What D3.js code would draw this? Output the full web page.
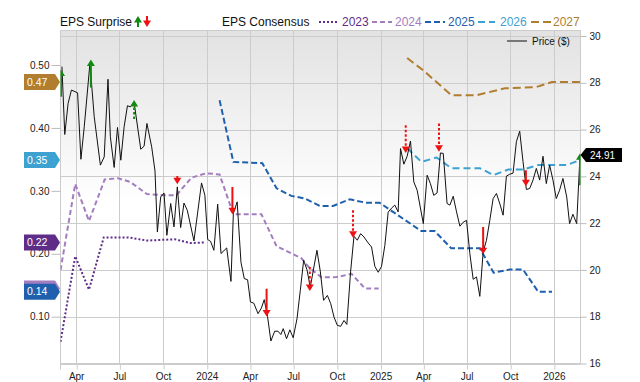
<!DOCTYPE html>
<html><head><meta charset="utf-8">
<script src="https://cdn.jsdelivr.net/npm/d3@7"></script>
<style>html,body{margin:0;padding:0;background:#fff;}svg{display:block;font-family:"Liberation Sans",Arial,Helvetica,sans-serif;}</style>
</head><body><svg id="chart" width="640" height="382"></svg>
<script>
// ---------------- DATA ----------------
const pricePoints = [
["2023-03-02",28.69],["2023-03-08",25.79],["2023-03-15",27.12],["2023-03-22",27.69],["2023-04-04",27.57],
["2023-04-11",24.73],["2023-04-18",26.12],["2023-04-30",28.83],["2023-05-09",26.55],["2023-05-22",24.48],
["2023-05-30",24.83],["2023-06-07",28.15],["2023-06-12",25.69],["2023-06-20",24.38],["2023-06-27",26.09],
["2023-07-04",24.69],["2023-07-11",26.12],["2023-07-18",27.02],["2023-07-24",26.97],["2023-08-01",27.16],
["2023-08-15",25.16],["2023-08-22",25.29],["2023-08-28",26.26],["2023-09-07",25.26],["2023-09-14",24.23],
["2023-09-19",21.62],["2023-09-26",23.12],["2023-10-03",23.29],["2023-10-09",21.48],["2023-10-17",22.84],
["2023-10-24",21.84],["2023-10-31",23.55],["2023-11-07",21.81],["2023-11-14",22.86],["2023-11-21",22.55],
["2023-12-05",21.24],["2023-12-21",23.72],["2023-12-28",23.19],["2024-01-03",21.30],["2024-01-09",21.22],
["2024-01-16",20.84],["2024-01-24",22.81],["2024-01-31",20.70],["2024-02-12",20.94],["2024-02-21",19.51],
["2024-02-26",22.41],["2024-03-05",22.91],["2024-03-13",20.33],["2024-03-20",19.63],["2024-03-27",19.58],
["2024-04-02",18.63],["2024-04-09",18.58],["2024-04-18",18.13],["2024-04-25",18.37],["2024-05-01",18.73],
["2024-05-08",18.01],["2024-05-15",16.96],["2024-05-23",17.38],["2024-05-30",17.38],["2024-06-05",17.24],
["2024-06-10",17.49],["2024-06-17",17.06],["2024-06-24",17.44],["2024-07-01",17.10],["2024-07-09",17.91],
["2024-07-16",19.13],["2024-07-23",20.41],["2024-07-30",20.01],["2024-08-06",19.27],["2024-08-20",20.84],
["2024-08-27",19.95],["2024-09-03",18.70],["2024-09-11",18.91],["2024-09-18",18.56],["2024-09-25",17.98],
["2024-10-02",17.63],["2024-10-09",17.59],["2024-10-16",17.84],["2024-10-22",17.67],["2024-10-30",19.95],
["2024-11-06",21.44],["2024-11-13",21.27],["2024-11-20",21.55],["2024-11-27",21.41],["2024-12-06",21.15],
["2024-12-13",20.98],["2024-12-20",20.15],["2024-12-27",19.90],["2025-01-03",20.15],["2025-01-10",21.05],
["2025-01-17",22.47],["2025-01-24",22.64],["2025-01-31",22.77],["2025-02-07",22.48],["2025-02-12",25.19],
["2025-02-19",24.52],["2025-02-26",24.86],["2025-03-05",25.51],["2025-03-12",23.76],["2025-03-19",23.41],
["2025-04-01",21.98],["2025-04-09",24.05],["2025-04-16",23.69],["2025-04-23",23.19],["2025-04-30",23.29],
["2025-05-07",25.00],["2025-05-13",24.98],["2025-05-21",22.84],["2025-05-27",22.77],["2025-06-03",23.15],
["2025-06-10",22.48],["2025-06-17",21.87],["2025-06-24",22.04],["2025-07-01",22.12],["2025-07-08",20.70],
["2025-07-15",19.60],["2025-07-22",19.70],["2025-07-29",18.87],["2025-08-05",20.77],["2025-08-12",21.27],
["2025-08-19",22.12],["2025-08-26",23.05],["2025-09-02",23.27],["2025-09-10",22.77],["2025-09-16",22.34],
["2025-09-23",24.01],["2025-09-30",24.09],["2025-10-07",24.14],["2025-10-14",25.48],["2025-10-21",25.93],
["2025-10-28",24.62],["2025-11-04",23.44],["2025-11-11",23.48],["2025-11-18",23.84],["2025-11-25",24.34],
["2025-12-02",23.84],["2025-12-09",24.86],["2025-12-16",23.69],["2025-12-23",24.48],["2025-12-30",23.84],
["2026-01-06",23.05],["2026-01-13",23.41],["2026-01-20",23.91],["2026-01-28",23.12],["2026-02-03",21.98],
["2026-02-10",22.38],["2026-02-18",21.98],["2026-02-25",24.91]
];

const consensus2023 = [["2023-02-27",0.060],["2023-03-30",0.196],["2023-04-28",0.143],["2023-05-29",0.226],
["2023-07-20",0.226],["2023-08-28",0.221],["2023-10-26",0.223],["2023-11-27",0.217],["2023-12-29",0.218]];

const consensus2024 = [["2023-02-27",0.174],["2023-03-30",0.311],["2023-04-28",0.252],["2023-05-31",0.318],
["2023-06-28",0.320],["2023-07-23",0.3145],["2023-08-28",0.295],["2023-10-01",0.293],["2023-10-29",0.293],
["2023-11-30",0.321],["2023-12-31",0.328],["2024-01-28",0.326],["2024-02-26",0.263],["2024-04-25",0.263],
["2024-05-27",0.212],["2024-07-18",0.193],["2024-08-05",0.177],["2024-08-30",0.1625],["2024-09-30",0.163],
["2024-11-01",0.168],["2024-11-29",0.145],["2024-12-28",0.145]];

const consensus2025 = [["2024-01-28",0.444],["2024-02-26",0.346],["2024-04-27",0.344],["2024-05-27",0.304],
["2024-06-27",0.292],["2024-07-25",0.288],["2024-08-26",0.276],["2024-09-23",0.276],["2024-10-28",0.2865],
["2024-12-02",0.281],["2024-12-30",0.281],["2025-03-28",0.236],["2025-04-25",0.236],["2025-05-30",0.2086],
["2025-07-29",0.2086],["2025-08-27",0.170],["2025-09-30",0.175],["2025-10-28",0.175],["2025-11-29",0.1396],
["2025-12-28",0.1396]];

const consensus2026 = [["2025-02-26",0.368],["2025-03-28",0.346],["2025-04-29",0.353],["2025-05-30",0.336],
["2025-07-29",0.336],["2025-08-27",0.325],["2025-09-27",0.334],["2025-10-28",0.334],["2025-11-29",0.341],
["2026-01-28",0.341],["2026-02-25",0.349]];

const consensus2027 = [["2025-02-26",0.511],["2025-03-31",0.492],["2025-05-30",0.452],["2025-07-22",0.452],
["2025-09-20",0.463],["2025-11-25",0.465],["2025-12-28",0.473],["2026-02-25",0.473]];

const consensusYears = ["2023","2024","2025","2026","2027"];
// 2024's tag is hidden behind the 2025 tag in the reference, so it carries no visible text
const consensusLabels = ["0.22","","0.14","0.35","0.47"];

// EPS surprise arrows: date, price at tail, price at tip, solid (true) / dotted (false)
const surpriseDates = ["2023-02-28","2023-05-02","2023-08-01","2023-10-31","2024-02-24","2024-05-06",
"2024-08-05","2024-11-04","2025-02-23","2025-05-04","2025-08-05","2025-11-03","2026-02-25"];
const surpriseFrom = [27.40,27.80,26.45,24.01,23.55,19.20,20.12,22.55,26.19,26.26,21.84,24.26,23.62];
const surpriseTo   = [28.57,29.00,27.26,23.66,22.38,18.01,19.10,21.38,25.00,25.05,20.67,23.58,24.99];
const surpriseSolid = [true,true,false,false,true,true,false,false,false,false,true,true,true];

const lastPriceLabel = "24.91";
const priceTicks = [16,18,20,22,24,26,28,30];
const epsTicks = [0.10,0.20,0.30,0.40,0.50];
const timeTickDates = ["2023-04-01","2023-07-01","2023-10-01","2024-01-01","2024-04-01","2024-07-01",
"2024-10-01","2025-01-01","2025-04-01","2025-07-01","2025-10-01","2026-01-01"];
const timeTickLabels = ["Apr","Jul","Oct","2024","Apr","Jul","Oct","2025","Apr","Jul","Oct","2026"];

// ---------------- CHART ----------------
const parse = d3.utcParse("%Y-%m-%d");
const svg = d3.select("#chart");
const L = 60.5, R = 580.5, T = 30.5, B = 363.5;

const x = d3.scaleUtc().domain([parse("2023-02-27"), parse("2026-02-26")]).range([L, R]);
const yP = d3.scaleLinear().domain([16, 30]).range([363.5, 36]);
const yE = d3.scaleLinear().domain([0.1, 0.5]).range([316.7, 65]);

const colors = {"2023":"#5f2d88","2024":"#a47dc0","2025":"#1f60ae","2026":"#3da2d1","2027":"#b17d2f"};
const dashes = {"2023":"2,2","2024":"5,3","2025":"6,3","2026":"7,4","2027":"8,4"};
const series = {"2023":consensus2023,"2024":consensus2024,"2025":consensus2025,"2026":consensus2026,"2027":consensus2027};

const defs = svg.append("defs");
const grad = defs.append("linearGradient").attr("id","bg").attr("x1",0).attr("y1",0).attr("x2",0).attr("y2",1);
grad.append("stop").attr("offset","0%").attr("stop-color","#e2e2e2");
grad.append("stop").attr("offset","52%").attr("stop-color","#ffffff");
grad.append("stop").attr("offset","100%").attr("stop-color","#ffffff");
defs.append("clipPath").attr("id","clip").append("rect").attr("x",L).attr("y",T).attr("width",R-L).attr("height",B-T);

svg.append("rect").attr("x",L).attr("y",T).attr("width",R-L).attr("height",B-T).attr("fill","url(#bg)");

// grid
const grid = svg.append("g").attr("stroke","#cccccc").attr("stroke-width",1);
priceTicks.forEach(v => {
  const yy = Math.round(yP(v)) + 0.5;
  grid.append("line").attr("x1",L).attr("x2",R).attr("y1",yy).attr("y2",yy);
});
timeTickDates.forEach(d => {
  const xx = Math.round(x(parse(d))) + 0.5;
  grid.append("line").attr("x1",xx).attr("x2",xx).attr("y1",T).attr("y2",B);
});
grid.append("line").attr("x1",L).attr("x2",R).attr("y1",T).attr("y2",T);
grid.append("line").attr("x1",L).attr("x2",L).attr("y1",T).attr("y2",B+6);
grid.append("line").attr("x1",R).attr("x2",R).attr("y1",T).attr("y2",B);
grid.append("line").attr("x1",L).attr("x2",R).attr("y1",B).attr("y2",B);

// axes
const xAxis = d3.axisBottom(x).tickValues(timeTickDates.map(parse))
  .tickFormat((d,i) => timeTickLabels[i]).tickSize(6).tickPadding(3).tickSizeOuter(0);
const gx = svg.append("g").attr("transform",`translate(0,${B})`).call(xAxis);
gx.select(".domain").remove();
gx.selectAll("line").attr("stroke","#cccccc").attr("transform","translate(0.5,0)");

const rAxis = d3.axisRight(yP).tickValues(priceTicks).tickSize(6).tickPadding(3).tickSizeOuter(0);
const gr = svg.append("g").attr("transform",`translate(${R},0)`).call(rAxis);
gr.select(".domain").remove();
gr.selectAll("line").attr("stroke","#bbbbbb");

const lAxis = d3.axisLeft(yE).tickValues(epsTicks).tickFormat(d3.format(".2f")).tickSize(9).tickPadding(2).tickSizeOuter(0);
const gl = svg.append("g").attr("transform",`translate(${L},0)`).call(lAxis);
gl.select(".domain").remove();
gl.selectAll("line").attr("stroke","#bbbbbb");

[gx, gr, gl].forEach(g => g.selectAll("text").attr("font-size",10).attr("fill","#222")
  .attr("font-family",'"Liberation Sans",Arial,sans-serif'));

// consensus lines
const plot = svg.append("g").attr("clip-path","url(#clip)");
const eLine = d3.line().x(d => x(parse(d[0]))).y(d => yE(d[1]));
consensusYears.forEach(yr => {
  plot.append("path").datum(series[yr]).attr("d", eLine).attr("fill","none")
    .attr("stroke", colors[yr]).attr("stroke-width", 2).attr("stroke-dasharray", dashes[yr]);
});

// price line
const pLine = d3.line().x(d => x(parse(d[0]))).y(d => yP(d[1]));
plot.append("path").datum(pricePoints).attr("d", pLine).attr("fill","none")
  .attr("stroke","#111").attr("stroke-width",1).attr("stroke-linejoin","round");

// surprise arrows
function arrow(g, xx, y0, y1, color, solid) {
  const dir = y1 < y0 ? -1 : 1; // -1 up
  const head = 6.5, hw = 4;
  g.append("line").attr("x1",xx).attr("x2",xx).attr("y1",y0).attr("y2",y1 - dir*head + dir*0.5)
    .attr("stroke",color).attr("stroke-width",2).attr("stroke-dasharray", solid ? null : "2.5,2");
  g.append("path").attr("d",`M${xx},${y1} L${xx-hw},${y1-dir*head} L${xx+hw},${y1-dir*head} Z`).attr("fill",color);
}
surpriseDates.forEach((d,i) => {
  const up = surpriseTo[i] > surpriseFrom[i];
  arrow(plot, x(parse(d)), yP(surpriseFrom[i]), yP(surpriseTo[i]), up ? "#128a12" : "#ee1111", surpriseSolid[i]);
});

// left consensus value labels
consensusYears.forEach((yr,i) => {
  const s = series[yr];
  const yy = yE(s[s.length-1][1]);
  svg.append("path").attr("d",`M24,${yy-8} H55 L60,${yy} L55,${yy+8} H24 Z`).attr("fill",colors[yr]);
  if (consensusLabels[i]) {
    svg.append("text").attr("x",27).attr("y",yy).attr("dy","0.35em").attr("font-size",10.5)
      .attr("fill","#fff").text(consensusLabels[i]);
  }
});

// right last price label
{
  const yy = yP(pricePoints[pricePoints.length-1][1]);
  svg.append("path").attr("d",`M${R},${yy} L586,${yy-7} H622 V${yy+7} H586 Z`).attr("fill","#000");
  svg.append("text").attr("x",590).attr("y",yy).attr("dy","0.35em").attr("font-size",10)
    .attr("fill","#fff").text(lastPriceLabel);
}

// legend
const lg = svg.append("g").attr("font-size",12);
lg.append("text").attr("x",60).attr("y",26).attr("fill","#111").text("EPS Surprise");
arrow(lg, 138, 27, 16, "#128a12", true);
arrow(lg, 147, 16, 27, "#ee1111", true);
lg.append("text").attr("x",222).attr("y",26).attr("fill","#111").text("EPS Consensus");
const legendItems = [[319,337,342],[372,392,395],[425,445,448],[478,495,500],[531,551,553]];
consensusYears.forEach((yr,i) => {
  const [a,b,t] = legendItems[i];
  lg.append("line").attr("x1",a).attr("x2",b).attr("y1",22).attr("y2",22).attr("stroke",colors[yr])
    .attr("stroke-width",2).attr("stroke-dasharray",dashes[yr]);
  lg.append("text").attr("x",t).attr("y",26).attr("fill",colors[yr]).text(yr);
});
svg.append("line").attr("x1",507).attr("x2",527).attr("y1",41).attr("y2",41).attr("stroke","#777").attr("stroke-width",2);
svg.append("text").attr("x",532).attr("y",44.5).attr("font-size",10).attr("fill","#111").text("Price ($)");
</script></body></html>
